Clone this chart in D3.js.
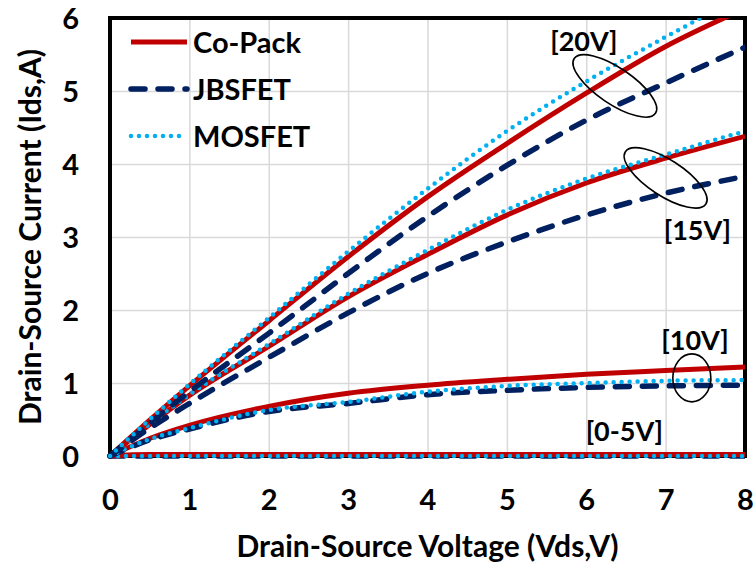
<!DOCTYPE html>
<html>
<head>
<meta charset="utf-8">
<script src="https://cdn.jsdelivr.net/npm/d3@7"></script>
<style>
  html, body { margin: 0; padding: 0; background: #fff; }
  svg text { font-family: Lato, "Open Sans", sans-serif; font-weight: 700; fill: #000; }
</style>
</head>
<body>
<svg id="chart" width="753" height="562"></svg>
<script>
// Drain-source voltage sample points (V)
const vds = [0, 0.5, 1, 2, 3, 4, 5, 6, 7, 8];

// Drain current (A) at Vgs = 20 V
const copack20 = [0, 0.49, 0.96, 1.85, 2.73, 3.55, 4.28, 4.97, 5.61, 6.13];
const jbsfet20 = [0, 0.45, 0.88, 1.68, 2.50, 3.28, 3.98, 4.60, 5.11, 5.60];
const mosfet20 = [0, 0.50, 0.98, 1.89, 2.80, 3.66, 4.45, 5.13, 5.74, 6.32];

// Vgs = 15 V
const copack15 = [0, 0.43, 0.83, 1.50, 2.18, 2.76, 3.30, 3.74, 4.08, 4.38];
const jbsfet15 = [0, 0.38, 0.72, 1.35, 1.96, 2.50, 2.93, 3.30, 3.60, 3.83];
const mosfet15 = [0, 0.44, 0.84, 1.53, 2.22, 2.82, 3.37, 3.80, 4.13, 4.45];

// Vgs = 10 V
const copack10 = [0, 0.24, 0.42, 0.68, 0.86, 0.97, 1.05, 1.12, 1.17, 1.22];
const jbsfet10 = [0, 0.22, 0.37, 0.61, 0.72, 0.84, 0.90, 0.94, 0.96, 0.97];
const mosfet10 = [0, 0.23, 0.38, 0.63, 0.74, 0.88, 0.96, 1.00, 1.03, 1.04];

// Vgs = 0-5 V (device off)
const copack05 = [0, 0.02, 0.02, 0.02, 0.02, 0.02, 0.02, 0.02, 0.02, 0.02];
const jbsfet05 = [0, 0, 0, 0, 0, 0, 0, 0, 0, 0];
const mosfet05 = [0, 0, 0, 0, 0, 0, 0, 0, 0, 0];

const devices = ["Co-Pack", "JBSFET", "MOSFET"];
const xTicks = [0, 1, 2, 3, 4, 5, 6, 7, 8];
const yTicks = [0, 1, 2, 3, 4, 5, 6];
const gateLabels = ["[20V]", "[15V]", "[10V]", "[0-5V]"];

const styles = {
  "Co-Pack": { color: "#C00000", width: 5, dash: null, cap: "butt" },
  "JBSFET":  { color: "#002060", width: 5.5, dash: "14,13", cap: "round" },
  "MOSFET":  { color: "#00B0F0", width: 4.5, dash: "0,8", cap: "round" }
};

// drawing order (bottom to top)
const series = [
  { dev: "JBSFET", y: jbsfet05 }, { dev: "Co-Pack", y: copack05 }, { dev: "MOSFET", y: mosfet05 },
  { dev: "Co-Pack", y: copack10 }, { dev: "JBSFET", y: jbsfet10 }, { dev: "MOSFET", y: mosfet10 },
  { dev: "Co-Pack", y: copack15 }, { dev: "JBSFET", y: jbsfet15 }, { dev: "MOSFET", y: mosfet15 },
  { dev: "Co-Pack", y: copack20 }, { dev: "JBSFET", y: jbsfet20 }, { dev: "MOSFET", y: mosfet20 }
];

const svg = d3.select("#chart");
const plot = { left: 110, right: 745, top: 18, bottom: 456 };

const x = d3.scaleLinear().domain([0, 8]).range([plot.left, plot.right]);
const y = d3.scaleLinear().domain([0, 6]).range([plot.bottom, plot.top]);

// curves are cut at the top and right edges, but keep their full width along the axes
svg.append("defs").append("clipPath").attr("id", "plotClip")
  .append("rect")
  .attr("x", plot.left - 6).attr("y", plot.top)
  .attr("width", plot.right - plot.left + 6).attr("height", plot.bottom - plot.top + 6);

// gridlines
svg.append("g")
  .attr("transform", `translate(0,${plot.bottom})`)
  .call(d3.axisBottom(x).tickValues(xTicks).tickSize(-(plot.bottom - plot.top)).tickFormat(""))
  .call(g => g.select(".domain").remove())
  .call(g => g.selectAll("line").attr("stroke", "#d9d9d9").attr("stroke-width", 1.5));
svg.append("g")
  .attr("transform", `translate(${plot.left},0)`)
  .call(d3.axisLeft(y).tickValues(yTicks).tickSize(-(plot.right - plot.left)).tickFormat(""))
  .call(g => g.select(".domain").remove())
  .call(g => g.selectAll("line").attr("stroke", "#d9d9d9").attr("stroke-width", 1.5));

// frame
svg.append("rect")
  .attr("x", plot.left).attr("y", plot.top)
  .attr("width", plot.right - plot.left).attr("height", plot.bottom - plot.top)
  .attr("fill", "none").attr("stroke", "#000").attr("stroke-width", 4);

// tick labels
svg.append("g")
  .attr("transform", `translate(0,${plot.bottom + 54})`)
  .call(d3.axisBottom(x).tickValues(xTicks).tickSize(0).tickPadding(0).tickFormat(d3.format("d")))
  .call(g => g.select(".domain").remove())
  .call(g => g.selectAll("text").attr("font-size", 29).attr("dy", 0).attr("y", 0));
svg.append("g")
  .attr("transform", `translate(${plot.left - 31},0)`)
  .call(d3.axisLeft(y).tickValues(yTicks).tickSize(0).tickPadding(0).tickFormat(d3.format("d")))
  .call(g => g.select(".domain").remove())
  .call(g => g.selectAll("text").attr("font-size", 29).attr("dy", "0.36em"));

// curves
const line = d3.line()
  .x((d, i) => x(vds[i]))
  .y(d => y(d))
  .curve(d3.curveMonotoneX);

const curves = svg.append("g").attr("clip-path", "url(#plotClip)");
series.forEach(s => {
  const st = styles[s.dev];
  curves.append("path")
    .attr("d", line(s.y))
    .attr("fill", "none")
    .attr("stroke", st.color)
    .attr("stroke-width", st.width)
    .attr("stroke-linecap", st.cap)
    .attr("stroke-linejoin", "round")
    .attr("stroke-dasharray", st.dash);
});

// annotations: ellipses grouping the curves of one gate voltage
const ellipses = [
  { cx: 6.36, cy: 5.07, rx: 49, ry: 18, rot: 34 },
  { cx: 7.0, cy: 3.81, rx: 48, ry: 18, rot: 33 },
  { cx: 7.33, cy: 1.07, rx: 19, ry: 24, rot: 0 }
];
ellipses.forEach(e => {
  svg.append("ellipse")
    .attr("cx", 0).attr("cy", 0).attr("rx", e.rx).attr("ry", e.ry)
    .attr("transform", `translate(${x(e.cx)},${y(e.cy)}) rotate(${e.rot})`)
    .attr("fill", "none").attr("stroke", "#000").attr("stroke-width", 1.6);
});

const labelPos = [
  { vx: 5.97, vy: 5.55 },
  { vx: 7.4, vy: 2.96 },
  { vx: 7.37, vy: 1.45 },
  { vx: 6.48, vy: 0.2 }
];
gateLabels.forEach((t, i) => {
  svg.append("text")
    .attr("x", x(labelPos[i].vx)).attr("y", y(labelPos[i].vy))
    .attr("text-anchor", "middle").attr("font-size", 27)
    .text(t);
});

// legend
const legend = svg.append("g");
devices.forEach((d, i) => {
  const st = styles[d];
  const ly = 42 + i * 47;
  legend.append("line")
    .attr("x1", 131).attr("x2", 187).attr("y1", ly).attr("y2", ly)
    .attr("stroke", st.color).attr("stroke-width", st.width)
    .attr("stroke-linecap", st.cap).attr("stroke-dasharray", st.dash);
  legend.append("text")
    .attr("x", 193).attr("y", ly + 11)
    .attr("font-size", 29)
    .text(d);
});

// axis titles
svg.append("text")
  .attr("x", (plot.left + plot.right) / 2).attr("y", 557)
  .attr("text-anchor", "middle").attr("font-size", 30)
  .text("Drain-Source Voltage (Vds,V)");
svg.append("text")
  .attr("transform", `translate(41,${(plot.top + plot.bottom) / 2}) rotate(-90)`)
  .attr("text-anchor", "middle").attr("font-size", 30)
  .text("Drain-Source Current (Ids,A)");
</script>
</body>
</html>
